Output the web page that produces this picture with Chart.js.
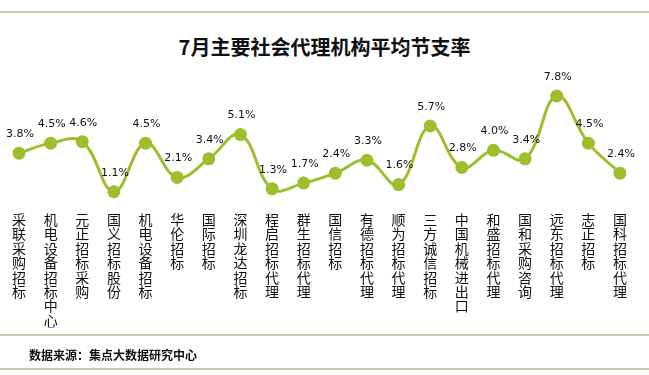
<!DOCTYPE html>
<html><head><meta charset="utf-8">
<script src="https://cdn.jsdelivr.net/npm/chart.js@4"></script>
<style>
html,body{margin:0;padding:0;background:#fff;}
#wrap{position:relative;width:649px;height:375px;overflow:hidden;}
.hl{position:absolute;left:0;width:649px;height:2px;background:#c9cda6;}
#title{position:absolute;top:34px;left:0;width:649px;text-align:center;font:bold 20px "Noto Sans CJK SC",sans-serif;color:#111;line-height:26px;}
#src{position:absolute;top:346px;left:29px;font:bold 12px "Noto Sans CJK SC",sans-serif;color:#111;line-height:18px;}
canvas{position:absolute;left:0;top:0;}
</style></head>
<body><div id="wrap">
<div class="hl" style="top:11px"></div>
<div id="title">7月主要社会代理机构平均节支率</div>
<canvas id="c" width="649" height="375"></canvas>
<div class="hl" style="top:334px"></div>
<div id="src">数据来源：集点大数据研究中心</div>
<div class="hl" style="top:368px"></div>
</div>
<script>
const categories = ["采联采购招标","机电设备招标中心","元正招标采购","国义招标股份","机电设备招标","华伦招标","国际招标","深圳龙达招标","程启招标代理","群生招标代理","国信招标","有德招标代理","顺为招标代理","三方诚信招标","中国机械进出口","和盛招标代理","国和采购咨询","远东招标代理","志正招标","国科招标代理"];
const rates = [3.8,4.5,4.6,1.1,4.5,2.1,3.4,5.1,1.3,1.7,2.4,3.3,1.6,5.7,2.8,4.0,3.4,7.8,4.5,2.4];

const valueLabels = {
  id:'valueLabels',
  afterDatasetsDraw(chart){
    const ctx = chart.ctx;
    const meta = chart.getDatasetMeta(0);
    ctx.save();
    ctx.font = '11px "DejaVu Sans", sans-serif';
    ctx.fillStyle = '#111';
    ctx.textAlign = 'center';
    ctx.textBaseline = 'middle';
    meta.data.forEach((p,i)=>{
      ctx.fillText(rates[i].toFixed(1)+'%', p.x+1, p.y-19);
    });
    ctx.restore();
  }
};

new Chart(document.getElementById('c'), {
  type:'line',
  data:{
    labels: categories.map(s=>s.split('')),
    datasets:[{
      data: rates,
      borderColor:'#9dbf2e',
      backgroundColor:'#9dbf2e',
      borderWidth:3,
      pointRadius:6.5,
      pointHoverRadius:6.5,
      pointBackgroundColor:'#9dbf2e',
      pointBorderWidth:0,
      tension:0.4,
      fill:false
    }]
  },
  options:{
    responsive:false,
    animation:false,
    devicePixelRatio:1,
    layout:{padding:{left:19,right:29,top:64.6,bottom:47.6}},
    plugins:{legend:{display:false},tooltip:{enabled:false},title:{display:false}},
    scales:{
      x:{
        offset:false,
        afterFit(s){ s.height = 120; },
        grid:{display:false,drawTicks:false},
        border:{display:false},
        ticks:{
          autoSkip:false,maxRotation:0,minRotation:0,padding:5,
          color:'#111',
          font:{family:'"Noto Sans CJK SC", sans-serif',size:14,lineHeight:1.03}
        }
      },
      y:{
        display:false,min:0,max:10
      }
    }
  },
  plugins:[valueLabels]
});
</script>
</body></html>
